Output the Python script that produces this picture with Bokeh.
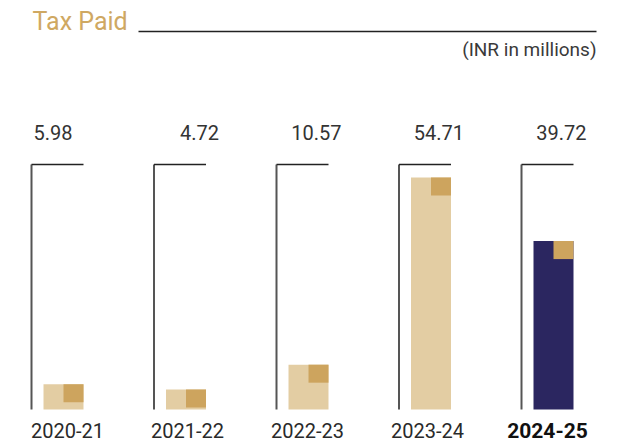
from bokeh.plotting import figure
from bokeh.models import Range1d, Label, ColumnDataSource
from bokeh.core.properties import value
from bokeh.embed import file_html
from bokeh.resources import INLINE

# ---- data ----
years = ["2020-21", "2021-22", "2022-23", "2023-24", "2024-25"]
tax_paid = [5.98, 4.72, 10.57, 54.71, 39.72]
value_labels = ["5.98", "4.72", "10.57", "54.71", "39.72"]
highlight = [False, False, False, False, True]

W, H = 620, 443
PX_X = 122.5          # px per category
PX_Y = 4.24           # px per INR million
X0 = 63               # canvas px of first bar centre
Y0 = 34               # canvas px (from bottom) of baseline

def dx(px):
    return px / PX_X

def dy(px):
    return px / PX_Y

p = figure(width=W, height=H, output_backend="svg", toolbar_location=None,
           x_range=Range1d(-X0 / PX_X, (W - X0) / PX_X),
           y_range=Range1d(-Y0 / PX_Y, (H - Y0) / PX_Y),
           min_border=0)
p.axis.visible = False
p.grid.visible = False
p.outline_line_color = None
p.background_fill_color = "white"
p.border_fill_color = "white"

xs = list(range(len(years)))
bar_w = dx(40)
acc_w = dx(20)
acc_h = dy(18)

bar_col = ["#2b2660" if h else "#e3cda3" for h in highlight]
lab_align = ["left"] + ["right"] * (len(xs) - 1)
lab_x = [x - dx(30) if a == "left" else x + dx(33) for x, a in zip(xs, lab_align)]
src = ColumnDataSource(dict(
    x=xs, top=tax_paid, col=bar_col,
    acc_x=[x + bar_w / 2 - acc_w / 2 for x in xs],
    acc_top=tax_paid,
    acc_bot=[t - acc_h for t in tax_paid],
    lab=value_labels,
    lab_x=lab_x,
    lab_align=lab_align,
    yr=years,
    yr_x=[x + dx(4) - x * dx(2.5) for x in xs],
    yr_style=["bold" if h else "normal" for h in highlight],
    yr_size=["21px" if h else "20px" for h in highlight],
    yr_col=["#111111" if h else "#2a2a2a" for h in highlight],
))

# brackets
br_top = dy(245)
p.segment(x0=[x - dx(32) for x in xs], y0=[0] * 5, x1=[x - dx(32) for x in xs], y1=[br_top] * 5,
          line_color="#555555", line_width=2)
p.segment(x0=[x - dx(32) for x in xs], y0=[br_top] * 5, x1=[x + dx(20) for x in xs], y1=[br_top] * 5,
          line_color="#222222", line_width=1.5)

# bars
p.vbar(x="x", top="top", bottom=0, width=bar_w, fill_color="col", line_color=None, source=src)
p.vbar(x="acc_x", top="acc_top", bottom="acc_bot", width=acc_w, fill_color="#cda45e",
       line_color=None, source=src)

# value labels (cap centre at canvas y 132)
p.text(x="lab_x", y=dy(H - 132 - Y0), text="lab", source=src, text_align="lab_align",
       text_baseline="middle", text_font=value("Roboto"), text_font_size="20px",
       text_color="#333333")

# category labels (cap centre at canvas y 430)
p.text(x="yr_x", y=-dy(Y0 - (H - 430)), text="yr", source=src, text_align="center",
       text_baseline="middle", text_font=value("Roboto"), text_font_size="yr_size",
       text_font_style="yr_style", text_color="yr_col")

# title
p.add_layout(Label(x=32, y=H - 21, x_units="screen", y_units="screen", text="Tax Paid",
                   text_font="Roboto", text_font_size="25px", text_color="#cfa862",
                   text_baseline="middle"))
p.segment(x0=[(138 - X0) / PX_X], x1=[(596 - X0) / PX_X],
          y0=[(H - 31 - Y0) / PX_Y], y1=[(H - 31 - Y0) / PX_Y],
          line_color="#222222", line_width=1.5)
p.add_layout(Label(x=596, y=H - 48.5, x_units="screen", y_units="screen", text="(INR in millions)",
                   text_font="Roboto", text_font_size="19px", text_color="#3a3a3a",
                   text_align="right", text_baseline="middle"))

open("out.html", "w").write(file_html(p, INLINE))
